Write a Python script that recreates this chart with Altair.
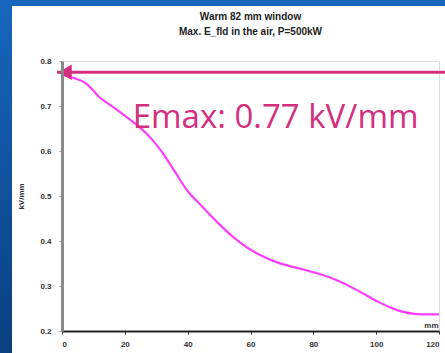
import altair as alt
import pandas as pd

# Curve
pos_mm = [0, 4, 8.3, 11.4, 14.6, 19, 24.8, 28.6, 32.7, 36.8, 40, 43.8, 51.1, 56.5, 61.9,
          69.2, 76.5, 84.1, 86, 93.7, 101, 107.3, 111.4, 120]
e_field = [0.77, 0.762, 0.751, 0.72, 0.706, 0.684, 0.653, 0.628, 0.59, 0.545, 0.508, 0.483,
           0.429, 0.396, 0.371, 0.349, 0.338, 0.322, 0.318, 0.293, 0.262, 0.244, 0.237, 0.237]

x_ticks = [0, 20, 40, 60, 80, 100, 120]
y_ticks = [0.2, 0.3, 0.4, 0.5, 0.6, 0.7, 0.8]

arrow_x = [-1.6, 122]
arrow_y = 0.775
label_text = "Emax: 0.77 kV/mm"
label_x = 22.5
label_y = 0.652

title_lines = ["Warm 82 mm window", "Max. E_fld in the air, P=500kW"]

W, H = 377, 270

curve_df = pd.DataFrame({"x": pos_mm, "y": e_field})
arrow_df = pd.DataFrame({"x": arrow_x, "y": [arrow_y] * len(arrow_x)})

x_scale = alt.Scale(domain=[0, 120], nice=False)
y_scale = alt.Scale(domain=[0.2, 0.8], nice=False)
one = pd.DataFrame({"a": [0]})

# Blue slide frame strips (decoration)
left_strip = alt.Chart(one).mark_rect(
    fill={"gradient": "linear", "x1": 0, "y1": 0, "x2": 0, "y2": 1,
          "stops": [{"offset": 0, "color": "#1766bd"}, {"offset": 1, "color": "#0a3f80"}]},
    clip=False,
).encode(x=alt.value(-62), x2=alt.value(-50), y=alt.value(-61), y2=alt.value(H + 22))

top_strip = alt.Chart(one).mark_rect(fill="#1766bd", clip=False).encode(
    x=alt.value(-62), x2=alt.value(W + 6), y=alt.value(-61), y2=alt.value(-55)
)

title1 = alt.Chart(one).mark_text(
    text=title_lines[0], font="Liberation Sans", fontSize=10, fontWeight="bold", color="#222",
    align="center", baseline="middle", clip=False,
).encode(x=alt.value(W / 2), y=alt.value(-44))

title2 = alt.Chart(one).mark_text(
    text=title_lines[1], font="Liberation Sans", fontSize=10, fontWeight="bold", color="#222",
    align="center", baseline="middle", clip=False,
).encode(x=alt.value(W / 2), y=alt.value(-29))

curve = alt.Chart(curve_df).mark_line(
    color="#ff3dff", strokeWidth=2.2, interpolate="basis"
).encode(
    x=alt.X("x:Q", scale=x_scale,
            axis=alt.Axis(values=x_ticks, format="d", title="mm", titleX=W - 1, titleY=-2,
                          titleAlign="right", titleBaseline="bottom", titleFontSize=8,
                          titleFont="Liberation Sans", titleFontWeight="bold", titleColor="#333",
                          labelFont="Liberation Sans", labelFontWeight="bold", labelFontSize=8,
                          labelColor="#333", labelPadding=6, tickSize=3, tickColor="#333",
                          domainColor="#222", domainWidth=2, grid=False, zindex=1)),
    y=alt.Y("y:Q", scale=y_scale,
            axis=alt.Axis(values=y_ticks, format=".1f", title="kV/mm", titleFontSize=8,
                          titleFont="Liberation Sans", titleFontWeight="bold", titleColor="#333",
                          titlePadding=14, labelFont="Liberation Sans", labelFontWeight="bold",
                          labelFontSize=8, labelColor="#333", labelPadding=8, tickSize=3,
                          tickColor="#999", domainColor="#8a8a8a", domainWidth=3, grid=False,
                          zindex=1)),
)

arrow_line = alt.Chart(arrow_df).mark_line(color="#d42f7e", strokeWidth=3, clip=False).encode(
    x=alt.X("x:Q", scale=x_scale), y=alt.Y("y:Q", scale=y_scale)
)

arrow_head = alt.Chart(pd.DataFrame({"x": [1.1], "y": [arrow_y]})).mark_point(
    shape="triangle-left", filled=True, fill="#d42f7e", stroke="#d42f7e", opacity=1, size=150,
    clip=False,
).encode(x=alt.X("x:Q", scale=x_scale), y=alt.Y("y:Q", scale=y_scale))

label = alt.Chart(pd.DataFrame({"x": [label_x], "y": [label_y], "t": [label_text]})).mark_text(
    align="left", baseline="alphabetic", font="Open Sans", fontSize=33, color="#d42f7e"
).encode(x=alt.X("x:Q", scale=x_scale), y=alt.Y("y:Q", scale=y_scale), text="t:N")

chart = alt.layer(left_strip, top_strip, title1, title2, curve, arrow_line, arrow_head,
                  label).properties(
    width=W, height=H,
    autosize=alt.AutoSizeParams(type="none"),
    padding={"left": 62, "top": 61, "right": 6, "bottom": 22},
).configure_view(stroke="#333", strokeWidth=2).configure(background="white")

chart.save("out.html", embed_options={"renderer": "svg", "actions": False})
